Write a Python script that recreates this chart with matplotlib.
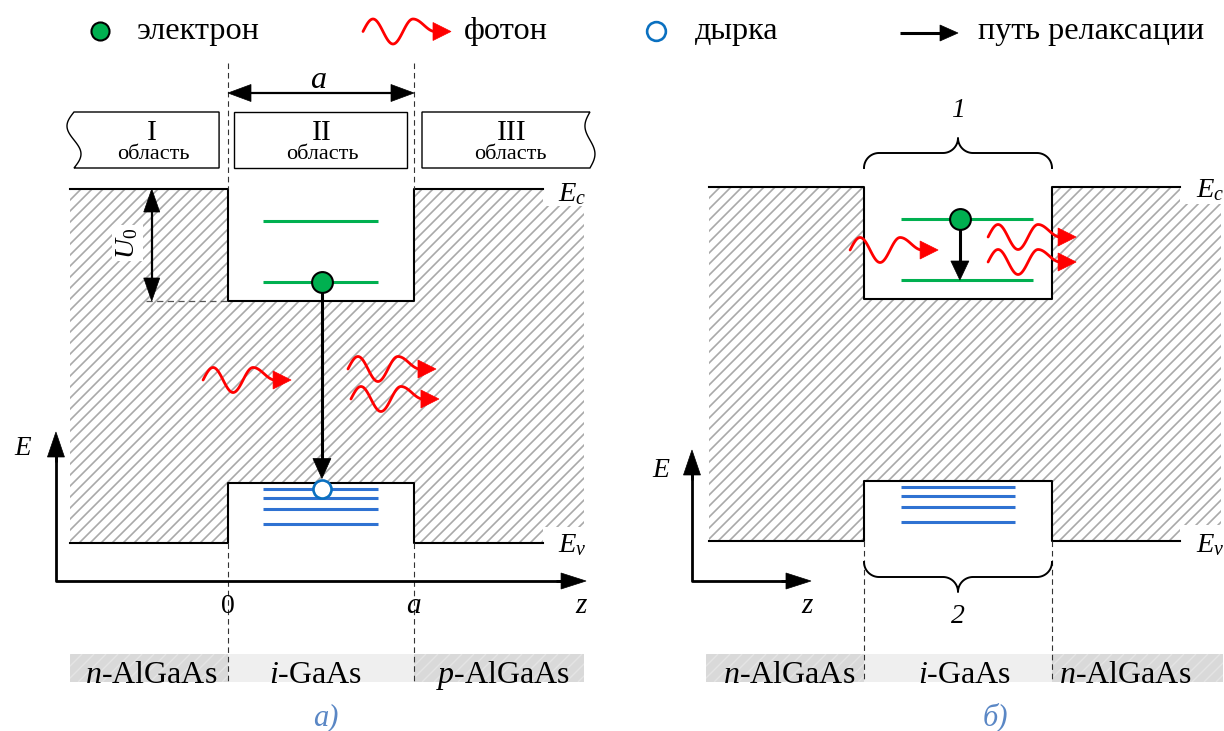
import numpy as np
import matplotlib
matplotlib.use("Agg")
import matplotlib.pyplot as plt
from matplotlib.patches import Polygon, Rectangle
from matplotlib.collections import LineCollection

plt.rcParams["font.family"] = ["Liberation Serif", "DejaVu Serif"]
plt.rcParams["mathtext.fontset"] = "custom"
plt.rcParams["mathtext.rm"] = "Liberation Serif"
plt.rcParams["mathtext.it"] = "Liberation Serif:italic"
plt.rcParams["mathtext.bf"] = "Liberation Serif:bold"

# band diagram values (energy in arbitrary units, z in units of the well width a)
ev_barrier = 0.0
ev_well = 0.60
ec_well = 2.42
ec_barrier = 3.54
electron_levels = [2.61, 3.22]
hole_levels = [0.54, 0.45, 0.34, 0.19]
well_edges = [0.0, 1.0]

legend_labels = ["электрон", "фотон", "дырка", "путь релаксации"]
region_numbers = ["I", "II", "III"]
region_word = "область"
layers_a = [r"$n$-AlGaAs", r"$i$-GaAs", r"$p$-AlGaAs"]
layers_b = [r"$n$-AlGaAs", r"$i$-GaAs", r"$n$-AlGaAs"]
panel_tags = ["а)", "б)"]
brace_tags = ["1", "2"]

GREEN = "#00b050"
BLUE = "#2f72d2"
HOLE = "#0a70c0"
RED = "#ff0000"
HATCH = "#a9a9a9"
TAG = "#5a87c5"

W, H, DPI = 1224, 731, 100
fig = plt.figure(figsize=(W / DPI, H / DPI), dpi=DPI)
fig.patch.set_facecolor("white")


def panel_axes(rect, z0_px, a_px, e0_px, e_px=100.0):
    # z = (x_px - z0_px) / a_px ;  E = (e0_px - y_px) / e_px  (y_px counted from the top)
    ax = fig.add_axes(rect)
    x_left, x_right = rect[0] * W, (rect[0] + rect[2]) * W
    ax.set_xlim((x_left - z0_px) / a_px, (x_right - z0_px) / a_px)
    ax.set_ylim((e0_px - H) / e_px, e0_px / e_px)
    ax.axis("off")
    return ax


ax_a = panel_axes([0, 0, 0.5, 1], 228, 186, 543)
ax_b = panel_axes([0.5, 0, 0.5, 1], 864, 188, 541)

# overlay in pixel units (y up) for arrows, photons and particles
ov = fig.add_axes([0, 0, 1, 1])
ov.set_xlim(0, W)
ov.set_ylim(0, H)
ov.axis("off")
ov.set_zorder(5)


def px(ax, z, e):
    return ax.transData.transform((z, e))


def stripes(ax, verts, a_px, spacing=11.0, color=HATCH, lw=1.2, zorder=1):
    poly = Polygon(verts, closed=True, facecolor="none", edgecolor="none")
    ax.add_patch(poly)
    zs = [v[0] for v in verts]
    es = [v[1] for v in verts]
    k = a_px / 100.0
    span = (max(es) - min(es)) / k
    starts = np.arange(min(zs) - span, max(zs) + 0.05, spacing / a_px)
    segs = [[(s, min(es)), (s + span, max(es))] for s in starts]
    lc = LineCollection(segs, colors=color, linewidths=lw, zorder=zorder)
    ax.add_collection(lc, autolim=False)
    lc.set_clip_path(poly)


def arrow(p0, p1, head_len, head_half, lw, color="black", both=False):
    p0 = np.asarray(p0, float)
    p1 = np.asarray(p1, float)
    d = p1 - p0
    u = d / np.hypot(*d)
    n = np.array([-u[1], u[0]])
    a = p0 + u * head_len * 0.8 if both else p0
    b = p1 - u * head_len * 0.8
    ov.plot([a[0], b[0]], [a[1], b[1]], color=color, lw=lw, solid_capstyle="butt", zorder=4)
    ends = [(p1, u)] + ([(p0, -u)] if both else [])
    for tip, v in ends:
        base = tip - v * head_len
        ov.add_patch(Polygon([tip, base + n * head_half, base - n * head_half], closed=True,
                             facecolor=color, edgecolor=color, lw=0.5, zorder=4))


def photon(p, scale=1.0):
    x0, y0 = p
    x1 = np.linspace(0, 50, 80)
    y1 = 12.5 * np.sin(2 * np.pi * x1 / 40)
    x2 = np.linspace(50, 72, 30)
    y2 = 12.5 * (1 + np.cos(np.pi * (x2 - 50) / 22)) / 2
    x = np.r_[x1, x2] * scale
    y = np.r_[y1, y2] * scale
    ov.plot(x0 + x, y0 + y, color=RED, lw=2.0, solid_capstyle="round", zorder=4)
    head = [(x0 + 88 * scale, y0), (x0 + 70 * scale, y0 + 9 * scale), (x0 + 70 * scale, y0 - 9 * scale)]
    ov.add_patch(Polygon(head, closed=True, facecolor=RED, edgecolor=RED, lw=0.5, zorder=4))


def electron(p, ms=15):
    ov.plot(*p, "o", ms=ms, mfc=GREEN, mec="black", mew=1.5, zorder=6)


def hole(p, ms=13):
    ov.plot(*p, "o", ms=ms, mfc="white", mec=HOLE, mew=1.9, zorder=6)


def brace(p0, p1, r, up=True):
    (x0, y), (x1, _) = p0, p1
    s = 1 if up else -1
    xm = (x0 + x1) / 2
    t = np.linspace(0, np.pi / 2, 25)
    a1 = np.c_[x0 + r - r * np.cos(t), y + s * r * np.sin(t)]
    a2 = np.c_[xm - r + r * np.sin(t), y + 2 * s * r - s * r * np.cos(t)]
    left = np.vstack([a1, a2])
    right = np.c_[2 * xm - left[::-1, 0], left[::-1, 1]]
    pts = np.vstack([left, right])
    ov.plot(pts[:, 0], pts[:, 1], color="black", lw=1.4, zorder=4)


def draw_panel(ax, a_px, z_left, z_right, z_line_end, level_span_e, level_span_h):
    verts = [(z_left, ec_barrier), (0, ec_barrier), (0, ec_well), (1, ec_well), (1, ec_barrier),
             (z_right, ec_barrier), (z_right, ev_barrier), (1, ev_barrier), (1, ev_well),
             (0, ev_well), (0, ev_barrier), (z_left, ev_barrier)]
    stripes(ax, verts, a_px)
    # white gaps behind the E_c / E_v labels
    ax.add_patch(Rectangle((z_line_end, ec_barrier - 0.17), z_right - z_line_end + 0.1, 0.17,
                           facecolor="white", edgecolor="none", zorder=2))
    ax.add_patch(Rectangle((z_line_end, ev_barrier), z_right - z_line_end + 0.1, 0.16,
                           facecolor="white", edgecolor="none", zorder=2))
    zc = [z_left, 0, 0, 1, 1, z_line_end]
    ax.plot(zc, [ec_barrier, ec_barrier, ec_well, ec_well, ec_barrier, ec_barrier],
            color="black", lw=1.5, zorder=3)
    ax.plot(zc, [ev_barrier, ev_barrier, ev_well, ev_well, ev_barrier, ev_barrier],
            color="black", lw=1.5, zorder=3)
    for e in electron_levels:
        ax.plot(level_span_e, [e, e], color=GREEN, lw=2.2, solid_capstyle="butt", zorder=3)
    for e in hole_levels:
        ax.plot(level_span_h, [e, e], color=BLUE, lw=2.2, solid_capstyle="butt", zorder=3)


def layer_band(ax, a_px, z_left, z_right, e_top, e_bot, labels, label_z, base_e):
    h = e_top - e_bot
    for z0, z1 in [(z_left, 0), (1, z_right)]:
        ax.add_patch(Rectangle((z0, e_bot), z1 - z0, h, facecolor="#d9d9d9", edgecolor="none", zorder=1))
        stripes(ax, [(z0, e_bot), (z1, e_bot), (z1, e_top), (z0, e_top)], a_px, spacing=12,
                color="#e4e4e4", lw=1.0, zorder=1.5)
    ax.add_patch(Rectangle((0, e_bot), 1, h, facecolor="#efefef", edgecolor="none", zorder=1))
    for lab, z in zip(labels, label_z):
        ax.text(z, base_e, lab, fontsize=23, ha="center", va="baseline", zorder=3)


# ---------------- panel a ----------------
draw_panel(ax_a, 186, -0.849, 1.914, 1.694, [0.188, 0.806], [0.188, 0.806])
layer_band(ax_a, 186, -0.849, 1.914, -1.11, -1.39, layers_a, [-0.414, 0.47, 1.48], -1.40)

for z in well_edges:
    ax_a.plot([z, z], [4.80, ec_barrier], color="#333333", lw=0.8, dashes=(5, 3.5), zorder=3)
    ax_a.plot([z, z], [ev_barrier, -1.39], color="#333333", lw=0.8, dashes=(5, 3.5), zorder=3)
ax_a.plot([-0.44, 0], [ec_well, ec_well], color="#555555", lw=0.9, dashes=(5, 3.5), zorder=3)


def region_box(ax, z0, z1, e_top, e_bot, wavy_left=False, wavy_right=False):
    (x0, yt), (x1, yb) = px(ax, z0, e_top), px(ax, z1, e_bot)
    t = np.linspace(0, 1, 60)
    ys = yt + (yb - yt) * t
    left = np.c_[x0 - 7 * np.sin(2 * np.pi * t), ys] if wavy_left else np.array([[x0, yt], [x0, yb]])
    right = np.c_[x1 - 5 * np.sin(2 * np.pi * t), ys] if wavy_right else np.array([[x1, yt], [x1, yb]])
    pts = np.vstack([left[:1], right, left[::-1]])
    ov.add_patch(Polygon(pts, closed=True, facecolor="white", edgecolor="black", lw=1.0, zorder=2))


box_z = [(-0.828, -0.048), (0.032, 0.962), (1.043, 1.946)]
for i, (z0, z1) in enumerate(box_z):
    region_box(ax_a, z0, z1, 4.31, 3.75, wavy_left=(i == 0), wavy_right=(i == 2))
for lab, z in zip(region_numbers, [-0.409, 0.505, 1.527]):
    ov.text(*px(ax_a, z, 4.03), lab, fontsize=21.5, ha="center", va="baseline", zorder=7)
for z in [-0.40, 0.505, 1.516]:
    ov.text(*px(ax_a, z, 3.84), region_word, fontsize=16, ha="center", va="baseline", zorder=7)

arrow(px(ax_a, 0, 4.50), px(ax_a, 1, 4.50), 23, 8.5, 1.6, both=True)
ax_a.text(0.484, 4.55, r"$a$", fontsize=23, ha="center", va="baseline")

arrow(px(ax_a, -0.41, ec_barrier), px(ax_a, -0.41, ec_well), 23, 8, 1.6, both=True)
ax_a.text(-0.54, 3.00, r"$U_0$", fontsize=20, rotation=90, ha="center", va="center", zorder=4,
          bbox=dict(facecolor="white", edgecolor="none", pad=2))

ax_a.text(1.85, 3.42, r"$E_c$", fontsize=20.5, ha="center", va="baseline", zorder=4)
ax_a.text(1.85, -0.09, r"$E_v$", fontsize=20.5, ha="center", va="baseline", zorder=4)

# axes of panel a
corner = px(ax_a, -0.925, -0.38)
e_tip = px(ax_a, -0.925, 1.11)
z_tip = px(ax_a, 1.925, -0.38)
ov.plot([corner[0], corner[0], z_tip[0] - 20], [e_tip[1] - 20, corner[1], corner[1]],
        color="black", lw=2.0, zorder=4)
arrow(e_tip - (0, 30), e_tip, 25, 8.5, 2.0)
arrow(z_tip - (30, 0), z_tip, 25, 8, 2.0)
ax_a.text(-1.10, 0.88, r"$E$", fontsize=19.5, ha="center", va="baseline")
ax_a.text(0, -0.70, "0", fontsize=20, ha="center", va="baseline")
ax_a.text(1, -0.70, r"$a$", fontsize=21, ha="center", va="baseline")
ax_a.text(1.903, -0.70, r"$z$", fontsize=21, ha="center", va="baseline")
ax_a.text(0.527, -1.82, panel_tags[0], fontsize=22, style="italic", color=TAG, ha="center", va="baseline")

# transition in panel a
pe = px(ax_a, 0.505, electron_levels[0])
ph = px(ax_a, 0.505, hole_levels[0])
arrow(pe, ph + (0, 10.5), 20, 9, 2.2)
electron(pe)
hole(ph)
for p in [(-0.134, 1.63), (0.645, 1.74), (0.661, 1.44)]:
    photon(px(ax_a, *p))

# ---------------- panel b ----------------
draw_panel(ax_b, 188, -0.824, 1.899, 1.681, [0.197, 0.899], [0.197, 0.803])
layer_band(ax_b, 188, -0.84, 1.91, -1.13, -1.41, layers_b, [-0.40, 0.535, 1.39], -1.42)
for z in well_edges:
    ax_b.plot([z, z], [ev_barrier, -1.41], color="#333333", lw=0.8, dashes=(5, 3.5), zorder=3)

brace(px(ax_b, 0, 3.73), px(ax_b, 1, 3.73), 15, up=True)
brace(px(ax_b, 0, -0.21), px(ax_b, 1, -0.21), 15, up=False)
ax_b.text(0.5, 4.24, brace_tags[0], fontsize=20, style="italic", ha="center", va="baseline")
ax_b.text(0.5, -0.82, brace_tags[1], fontsize=20, style="italic", ha="center", va="baseline")

ax_b.text(1.84, 3.44, r"$E_c$", fontsize=20.5, ha="center", va="baseline", zorder=4)
ax_b.text(1.84, -0.11, r"$E_v$", fontsize=20.5, ha="center", va="baseline", zorder=4)

corner = px(ax_b, -0.915, -0.40)
e_tip = px(ax_b, -0.915, 0.91)
z_tip = px(ax_b, -0.282, -0.40)
ov.plot([corner[0], corner[0], z_tip[0] - 20], [e_tip[1] - 20, corner[1], corner[1]],
        color="black", lw=2.0, zorder=4)
arrow(e_tip - (0, 30), e_tip, 25, 8.5, 2.0)
arrow(z_tip - (30, 0), z_tip, 25, 8, 2.0)
ax_b.text(-1.08, 0.64, r"$E$", fontsize=20, ha="center", va="baseline")
ax_b.text(-0.30, -0.72, r"$z$", fontsize=21, ha="center", va="baseline")
ax_b.text(0.70, -1.84, panel_tags[1], fontsize=22, style="italic", color=TAG, ha="center", va="baseline")

pe = px(ax_b, 0.51, electron_levels[1])
pl = px(ax_b, 0.51, electron_levels[0])
arrow(pe, pl, 19, 9, 2.2)
electron(pe)
for p in [(-0.074, 2.91), (0.66, 3.04), (0.66, 2.79)]:
    photon(px(ax_b, *p))

# ---------------- legend ----------------
ly = H - 31
tb = H - 38.5
electron((100, ly), ms=13)
photon((363, ly - 0.5))
hole((656, ly), ms=13.5)
arrow((900, H - 33), (958, H - 33), 18, 8, 2.2)
for lab, x in zip(legend_labels, [137, 464, 695, 978]):
    ov.text(x, tb, lab, fontsize=23.2, ha="left", va="baseline")

fig.savefig("out.png", dpi=DPI, facecolor="white")
